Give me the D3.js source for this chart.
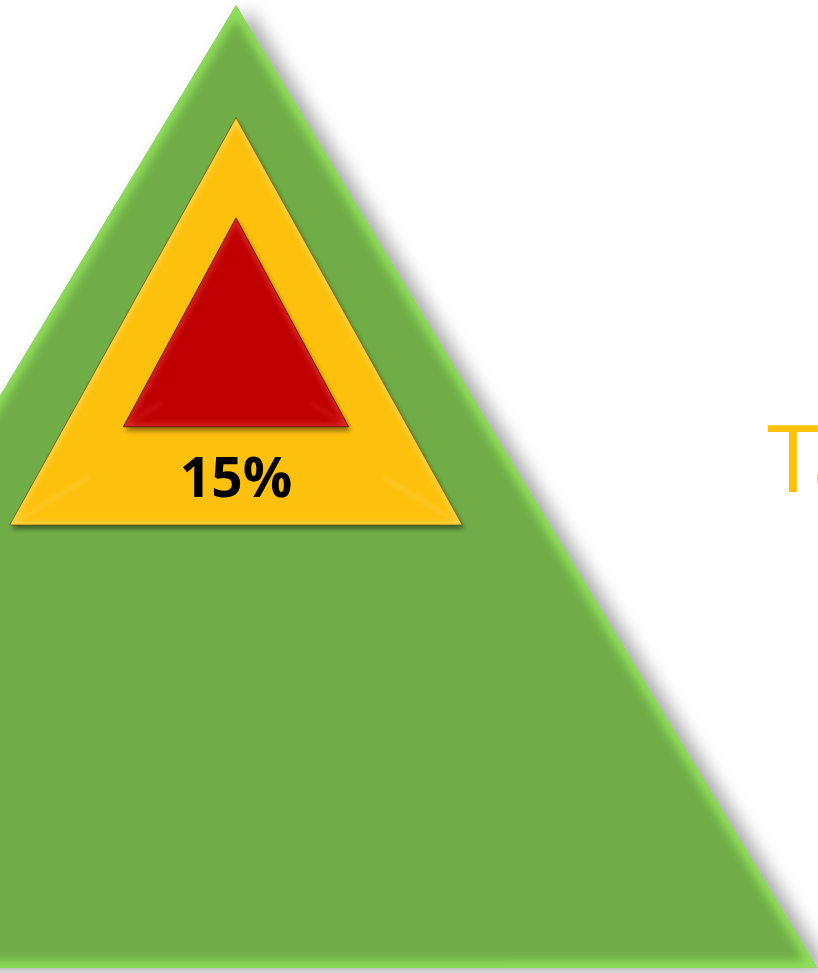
<!DOCTYPE html>
<html>
<head>
<meta charset="utf-8">
<script src="https://cdn.jsdelivr.net/npm/d3@7"></script>
<style>
  html, body { margin: 0; padding: 0; background: #ffffff; overflow: hidden; }
  svg { display: block; }
</style>
</head>
<body>
<script>
// Nested tiers of the pyramid, outermost first (values in chart units)
const tierNames      = ["Base", "Middle", "Top"];
const tierBaseLevel  = [0, 46.0, 56.2];    // level of each tier's base
const tierApexLevel  = [100, 88.3, 77.9];  // level of each tier's apex
const tierHalfWidth  = [60.4, 23.5, 11.7]; // half of each tier's base width
const tierColors     = ["#70ad47", "#fdc00d", "#c00404"];
const tierEdgeColors = ["#9cf063", "#ffe06a", "#e83c3c"];
const tierOutline    = [null, "#6b5a12", "#5a1a0a"];

// Percentage label drawn on the middle tier
const labelTier = 1;
const labelText = "15%";
const sideTitle = "Ta";

const W = 818, H = 973;
const svg = d3.select("body").append("svg").attr("width", W).attr("height", H);

const x = d3.scaleLinear().domain([-50, 50]).range([236 - 481.5, 236 + 481.5]);
const y = d3.scaleLinear().domain([0, 100]).range([968, 5]);

const defs = svg.append("defs");

// soft shadow cast down and to the right
const sh = defs.append("filter").attr("id", "shadow")
  .attr("x", "-20%").attr("y", "-20%").attr("width", "150%").attr("height", "150%");
sh.append("feDropShadow").attr("dx", 12).attr("dy", 4).attr("stdDeviation", 9)
  .attr("flood-color", "#000").attr("flood-opacity", 0.35);

const shSmall = defs.append("filter").attr("id", "shadowSmall")
  .attr("x", "-20%").attr("y", "-20%").attr("width", "150%").attr("height", "150%");
shSmall.append("feDropShadow").attr("dx", 2).attr("dy", 4).attr("stdDeviation", 2.5)
  .attr("flood-color", "#000").attr("flood-opacity", 0.45);

const blur = defs.append("filter").attr("id", "edgeBlur")
  .attr("x", "-20%").attr("y", "-20%").attr("width", "140%").attr("height", "140%");
blur.append("feGaussianBlur").attr("stdDeviation", 5);

const blurSmall = defs.append("filter").attr("id", "edgeBlurSmall")
  .attr("x", "-20%").attr("y", "-20%").attr("width", "140%").attr("height", "140%");
blurSmall.append("feGaussianBlur").attr("stdDeviation", 2.5);

const tiers = tierNames.map((name, i) => ({
  name, i,
  pts: [
    [x(0), y(tierApexLevel[i])],
    [x(tierHalfWidth[i]), y(tierBaseLevel[i])],
    [x(-tierHalfWidth[i]), y(tierBaseLevel[i])]
  ]
}));

const line = d3.line().curve(d3.curveLinearClosed);

tiers.forEach(t => {
  defs.append("clipPath").attr("id", "clip" + t.i)
    .append("path").attr("d", line(t.pts));
});

const g = svg.append("g");

tiers.forEach(t => {
  const grp = g.append("g");
  grp.append("path")
    .attr("d", line(t.pts))
    .attr("fill", tierColors[t.i])
    .attr("filter", t.i === 0 ? "url(#shadow)" : "url(#shadowSmall)");

  // bevelled rim along the edges
  const rim = grp.append("g").attr("clip-path", "url(#clip" + t.i + ")");
  const [apex, p1, p2] = t.pts;
  if (t.i === 0) {
    rim.append("path").attr("d", line(t.pts))
      .attr("fill", "none").attr("stroke", tierEdgeColors[0])
      .attr("stroke-width", 14).attr("opacity", 0.75)
      .attr("filter", "url(#edgeBlur)");
    // brighter bottom edge
    rim.append("line")
      .attr("x1", p2[0]).attr("x2", p1[0]).attr("y1", p1[1]).attr("y2", p1[1])
      .attr("stroke", "#a6f56a").attr("stroke-width", 22)
      .attr("filter", "url(#edgeBlur)");
  } else {
    rim.append("path").attr("d", line(t.pts))
      .attr("fill", "none").attr("stroke", tierEdgeColors[t.i])
      .attr("stroke-width", 7).attr("opacity", 0.55)
      .attr("filter", "url(#edgeBlurSmall)");
    rim.append("line")
      .attr("x1", p2[0]).attr("x2", p1[0]).attr("y1", p1[1]).attr("y2", p1[1])
      .attr("stroke", d3.color(tierColors[t.i]).darker(0.5)).attr("stroke-width", 5)
      .attr("opacity", 0.6)
      .attr("filter", "url(#edgeBlurSmall)");
    // faint facet lines from the corners toward the centre
    const cx = (apex[0] + p1[0] + p2[0]) / 3, cy = (apex[1] + p1[1] + p2[1]) / 3;
    [apex, p1, p2].forEach(p => {
      rim.append("line")
        .attr("x1", p[0]).attr("y1", p[1])
        .attr("x2", p[0] + (cx - p[0]) * 0.35).attr("y2", p[1] + (cy - p[1]) * 0.35)
        .attr("stroke", tierEdgeColors[t.i]).attr("stroke-width", 3)
        .attr("opacity", 0.35).attr("filter", "url(#edgeBlurSmall)");
    });
  }

  if (tierOutline[t.i]) {
    grp.append("path").attr("d", line(t.pts))
      .attr("fill", "none").attr("stroke", tierOutline[t.i])
      .attr("stroke-width", 1).attr("opacity", 0.8);
  }
});

// value label between the top tier's base and the middle tier's base
const labelLevel = (tierBaseLevel[labelTier] + tierBaseLevel[labelTier + 1]) / 2;
svg.append("text")
  .attr("x", x(0))
  .attr("y", y(labelLevel))
  .attr("text-anchor", "middle")
  .attr("dominant-baseline", "central")
  .attr("font-family", "'Open Sans', 'Noto Sans', sans-serif")
  .attr("font-weight", 700)
  .attr("font-size", 55)
  .attr("fill", "#000")
  .text(labelText);

// side title
svg.append("text")
  .attr("x", 767)
  .attr("y", 492)
  .attr("font-family", "'Open Sans', 'Noto Sans', sans-serif")
  .attr("font-weight", 400)
  .attr("font-size", 94)
  .attr("letter-spacing", -6)
  .attr("fill", "#ffc000")
  .text(sideTitle);
</script>
</body>
</html>
